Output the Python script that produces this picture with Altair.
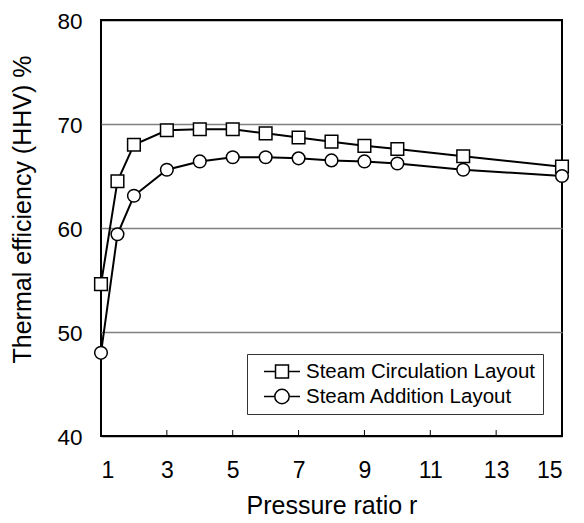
import altair as alt
import pandas as pd

ratio = [1, 1.5, 2, 3, 4, 5, 6, 7, 8, 9, 10, 12, 15]
circulation = [54.6, 64.5, 68.0, 69.4, 69.5, 69.5, 69.1, 68.7, 68.3, 67.9, 67.6, 66.9, 65.9]
addition = [48.0, 59.4, 63.1, 65.6, 66.4, 66.8, 66.8, 66.7, 66.5, 66.4, 66.2, 65.6, 65.0]
series_names = ["Steam Circulation Layout", "Steam Addition Layout"]
x_ticks = [1, 3, 5, 7, 9, 11, 13, 15]
inner_ticks = [3, 5, 7, 9, 11, 13]
y_ticks = [40, 50, 60, 70, 80]

FONT = "Liberation Sans"
W, H = 461, 416

df = pd.DataFrame({
    "r": ratio * 2,
    "eff": circulation + addition,
    "series": [series_names[0]] * len(ratio) + [series_names[1]] * len(ratio),
})
ticks_df = pd.DataFrame({"t": inner_ticks})

xscale = alt.Scale(domain=[1, 15], nice=False, zero=False)
yscale = alt.Scale(domain=[40, 80], nice=False, zero=False)

xenc = alt.X("r:Q", scale=xscale, axis=alt.Axis(
    values=x_ticks, title="Pressure ratio r", grid=False, ticks=False, domain=False,
    labelFontSize=23, labelPadding=34, labelBaseline="middle",
    titleFontSize=25, titleX=W / 2, titleY=69, titleBaseline="middle",
    labelFont=FONT, titleFont=FONT, labelColor="black", titleColor="black",
    titleFontWeight="normal"))
yenc = alt.Y("eff:Q", scale=yscale, axis=alt.Axis(
    values=y_ticks, title="Thermal efficiency (HHV) %", grid=True, ticks=False, domain=False,
    gridColor={"condition": {"test": "datum.value == 40 || datum.value == 80", "value": "black"}, "value": "#808080"},
    gridWidth=1.5,
    labelFontSize=22.5, labelPadding=19, labelOffset=1,
    titleFontSize=25, titleX=-79, titleY=189, titleBaseline="middle", titleAngle=270,
    labelFont=FONT, titleFont=FONT, labelColor="black", titleColor="black",
    titleFontWeight="normal"))

lines = alt.Chart(df).mark_line(color="black", strokeWidth=2).encode(
    x=xenc, y=yenc, detail="series:N")

points = alt.Chart(df).mark_point(filled=True, fill="white", stroke="black", strokeWidth=1.5,
                                  size=160, opacity=1).encode(
    x="r:Q", y="eff:Q",
    shape=alt.Shape("series:N", scale=alt.Scale(domain=series_names, range=["square", "circle"]),
                    legend=None))

sq_path = "M-1,0H-0.36M0.36,0H1M-0.36,-0.36H0.36V0.36H-0.36Z"
ci_path = "M-1,0H-0.4M0.4,0H1M-0.4,0A0.4,0.4 0 1,1 0.4,0A0.4,0.4 0 1,1 -0.4,0Z"

legend_layer = alt.Chart(df).transform_filter("false").mark_point(
    filled=False, color="black", strokeWidth=1.5, opacity=1, size=1296).encode(
    x="r:Q", y="eff:Q",
    shape=alt.Shape("series:N", scale=alt.Scale(domain=series_names, range=[sq_path, ci_path]),
                    legend=alt.Legend(title=None, orient="none", legendX=146, legendY=334,
                                      symbolSize=1296, symbolFillColor="white",
                                      symbolStrokeColor="black", symbolStrokeWidth=1.5,
                                      symbolOpacity=1, symbolOffset=9,
                                      labelFont=FONT, labelFontSize=20.5, labelColor="black",
                                      labelOffset=5, labelLimit=400, padding=7, rowPadding=4,
                                      clipHeight=21,
                                      fillColor="white", strokeColor="#333333")))

tick_marks = alt.Chart(ticks_df).mark_rule(color="black", strokeWidth=1).encode(
    x=alt.X("t:Q", scale=xscale), y=alt.value(H), y2=alt.value(H - 6))

chart = alt.layer(lines, tick_marks, points, legend_layer).resolve_scale(
    shape="independent"
).properties(
    width=W, height=H,
    background="white",
    autosize=alt.AutoSizeParams(type="none"),
    padding={"left": 93, "top": 12, "right": 14, "bottom": 87},
).configure_view(stroke="black", strokeWidth=2)

chart.save("out.html", embed_options={"renderer": "svg", "actions": False})
